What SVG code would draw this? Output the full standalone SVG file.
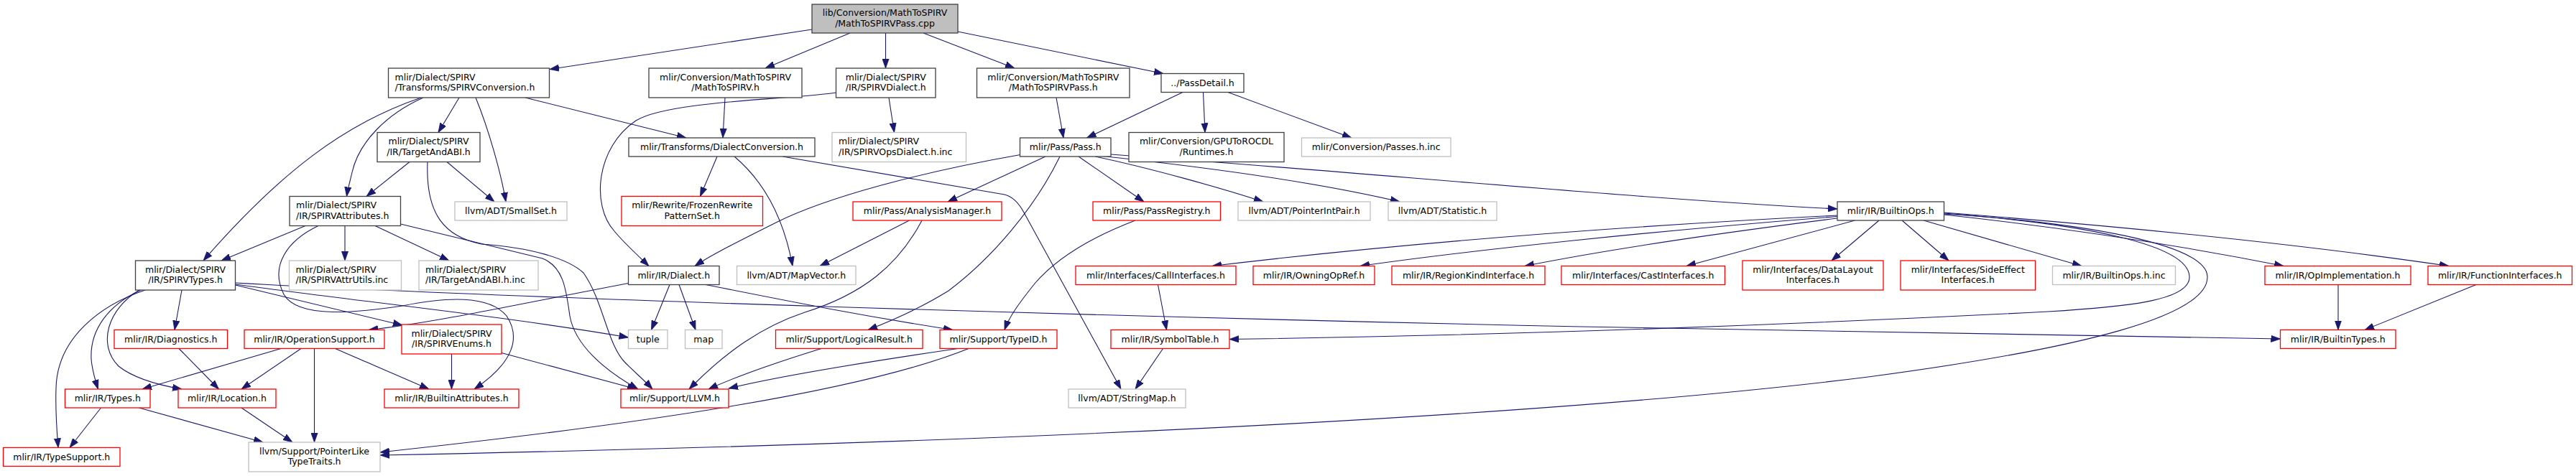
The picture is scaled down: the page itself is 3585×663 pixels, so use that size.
<svg xmlns="http://www.w3.org/2000/svg" width="3585" height="663" viewBox="0 0 3585 663">
<style>
rect{stroke-width:1.3}
.n{fill:#fff;stroke:#404040}
.m{fill:#bfbfbf;stroke:#404040}
.r{fill:#fff;stroke:#ff0000}
.g{fill:#fff;stroke:#bfbfbf}
text{font-family:"DejaVu Sans","Liberation Sans",sans-serif;font-size:12.5px;fill:#000}
.c{text-anchor:middle}
.e path{fill:none;stroke:#191970;stroke-width:1.1;marker-end:url(#a)}
</style>
<defs>
<marker id="a" viewBox="0 0 13 10" refX="13" refY="5" markerWidth="13" markerHeight="10" markerUnits="userSpaceOnUse" orient="auto">
<path d="M0,0.4 L13,5 L0,9.6 Z" fill="#191970" stroke="#191970" stroke-width="0.8"/>
</marker>
</defs>
<rect width="3585" height="663" fill="#fff"/>
<g class="e">
<path d="M1130,41 L765,96.5"/>
<path d="M1183,46 L1065,95"/>
<path d="M1232.5,46 L1232.5,95"/>
<path d="M1285,46 L1412,95"/>
<path d="M1333,44 L1619,102.5"/>
<path d="M639,136 L610,184.5"/>
<path d="M662,136 C680,180 697,240 704,281"/>
<path d="M731,136 L955,192"/>
<path d="M589,136 C540,158 500,196 490,240 C487,253 484,263 482.5,273.5"/>
<path d="M586,136 C480,172 390,240 283,363"/>
<path d="M1009,136 L1006,192"/>
<path d="M1237,136 L1244.5,184.5"/>
<path d="M1163.5,129 C1110,138 930,140 885,168 C830,205 822,285 855,322 C870,340 888,356 903,370.5"/>
<path d="M1470,136 L1480,192"/>
<path d="M1646,128.5 L1512.5,192"/>
<path d="M1674.5,128.5 L1677,184.5"/>
<path d="M1709,128.5 L1881,192"/>
<path d="M570,225.5 L510,273.5"/>
<path d="M622,225.5 L688,281"/>
<path d="M595,225.5 C592,300 620,330 670,340 C740,345 790,360 812,380 C840,420 845,480 870,505 C885,520 897,530 908,542"/>
<path d="M557.5,312 L755,360 C785,372 788,405 793,440 C800,480 840,515 888,542"/>
<path d="M998,218 L974.5,273.5"/>
<path d="M1022,218 C1060,250 1090,300 1103,370.5"/>
<path d="M1089,218 L1398,271 C1410,274 1418,283 1425,296 L1560,542"/>
<path d="M1420,215.5 C1280,240 1150,275 1080,310 C1030,335 990,355 967,370.5"/>
<path d="M1455,218 L1319,281"/>
<path d="M1475,218 C1440,290 1380,360 1320,405 C1280,430 1240,447 1208,459.5"/>
<path d="M1501,218 L1592,281"/>
<path d="M1524,218 C1600,234 1700,262 1758,281"/>
<path d="M1530,217 C1700,235 1850,258 1948,281"/>
<path d="M1546,215 C1900,240 2250,275 2557,291"/>
<path d="M1265.5,307 L1141,370.5"/>
<path d="M1283,307 C1250,370 1200,410 1120,435 C1060,455 1010,490 959,542"/>
<path d="M1580,307 C1520,330 1470,360 1440,395 C1420,420 1405,440 1398,459.5"/>
<path d="M932,396.5 L906.5,459.5"/>
<path d="M945,396.5 L968,459.5"/>
<path d="M982,396.5 C1100,420 1200,440 1326,459.5"/>
<path d="M874.5,394.5 C700,428 600,450 513,459.5"/>
<path d="M425,314.5 L308,363"/>
<path d="M480,314.5 L480,363"/>
<path d="M522,314.5 L625,363"/>
<path d="M443,314.5 C400,335 375,370 395,410 C415,445 500,435 560,426 C620,414 680,410 705,440 C725,470 715,505 660,542"/>
<path d="M202,404 C140,425 80,470 78,540 C77,570 79,600 81,623.5"/>
<path d="M196,404 C150,425 125,460 127,500 C128,515 132,528 136.5,542"/>
<path d="M194,404 C150,430 135,480 165,510 C190,530 230,538 253,542"/>
<path d="M253,404 L243,459.5"/>
<path d="M327.5,397 L560,453"/>
<path d="M327.5,396 C500,420 700,440 874.5,470"/>
<path d="M327.5,394 C700,415 1500,440 2200,455 C2600,463 2950,469 3173.5,472"/>
<path d="M391,485.5 L198,542"/>
<path d="M419,485.5 L336,542"/>
<path d="M437.5,485.5 L437.5,616"/>
<path d="M466.5,485.5 L597,542"/>
<path d="M628.5,493 L628.5,542"/>
<path d="M698,491.5 L886,542"/>
<path d="M249,485.5 L304.5,542"/>
<path d="M140.5,568 L97,623.5"/>
<path d="M193.5,568 L366,616"/>
<path d="M336,568 L407,616"/>
<path d="M1143,485.5 C1080,505 1030,522 986,542"/>
<path d="M1333,485.5 C1200,505 1080,525 1014,541"/>
<path d="M1348,485.5 C1200,545 900,590 529,630"/>
<path d="M2705.5,298 C2900,310 3070,340 3072,385 C3074,440 2900,485 2600,525 C2200,575 1500,615 529,634"/>
<path d="M2705.5,297 C2900,312 3045,340 3047,385 C3049,420 2950,428 2850,434 C2500,452 2100,467 1711,472.5"/>
<path d="M2557,300 C2200,318 1900,345 1687,370.5"/>
<path d="M2557,301.5 C2300,322 2050,348 1893,370.5"/>
<path d="M2557,304 C2350,330 2200,355 2122,370.5"/>
<path d="M2581.5,307 L2347,370.5"/>
<path d="M2615,307 L2549,363"/>
<path d="M2647,307 L2712,363"/>
<path d="M2677,307 L2897,370.5"/>
<path d="M2705.5,299 C2900,320 3050,345 3178,370.5"/>
<path d="M2705.5,296 C2950,315 3200,340 3408,370.5"/>
<path d="M1611.5,396.5 L1623.5,459.5"/>
<path d="M1618.5,485.5 L1580,542"/>
<path d="M3254,396.5 L3254,459.5"/>
<path d="M3446,396.5 L3291,459.5"/>
</g>
<g id="n_main"><rect class="m" x="1130" y="6" width="203" height="40"/><text class="c" x="1231.5" y="22">lib/Conversion/MathToSPIRV</text><text class="c" x="1231.5" y="36.5">/MathToSPIRVPass.cpp</text></g>
<g id="n_spirvconversion"><rect class="n" x="540.5" y="95" width="224" height="41"/><text x="549.5" y="111.5">mlir/Dialect/SPIRV</text><text x="549.5" y="126">/Transforms/SPIRVConversion.h</text></g>
<g id="n_mathtospirv"><rect class="n" x="903" y="95" width="213" height="41"/><text class="c" x="1009.5" y="111.5">mlir/Conversion/MathToSPIRV</text><text class="c" x="1009.5" y="126">/MathToSPIRV.h</text></g>
<g id="n_spirvdialect"><rect class="n" x="1163.5" y="95" width="138.5" height="41"/><text class="c" x="1232.75" y="111.5">mlir/Dialect/SPIRV</text><text class="c" x="1232.75" y="126">/IR/SPIRVDialect.h</text></g>
<g id="n_mathtospirvpass"><rect class="n" x="1359.5" y="95" width="212.5" height="41"/><text class="c" x="1465.75" y="111.5">mlir/Conversion/MathToSPIRV</text><text class="c" x="1465.75" y="126">/MathToSPIRVPass.h</text></g>
<g id="n_passdetail"><rect class="n" x="1616" y="102.5" width="115" height="26"/><text class="c" x="1673.5" y="119.5">../PassDetail.h</text></g>
<g id="n_targetandabi"><rect class="n" x="525" y="184.5" width="143" height="41"/><text class="c" x="596.5" y="201">mlir/Dialect/SPIRV</text><text class="c" x="596.5" y="215.5">/IR/TargetAndABI.h</text></g>
<g id="n_dialectconversion"><rect class="n" x="875" y="192" width="259" height="26"/><text class="c" x="1004.5" y="209">mlir/Transforms/DialectConversion.h</text></g>
<g id="n_spirvopsdialectinc"><rect class="g" x="1158" y="184.5" width="186.5" height="41"/><text x="1167" y="201">mlir/Dialect/SPIRV</text><text x="1167" y="215.5">/IR/SPIRVOpsDialect.h.inc</text></g>
<g id="n_pass"><rect class="n" x="1419.5" y="192" width="126.5" height="26"/><text class="c" x="1482.75" y="209">mlir/Pass/Pass.h</text></g>
<g id="n_runtimes"><rect class="n" x="1571" y="184.5" width="216" height="41"/><text class="c" x="1679" y="201">mlir/Conversion/GPUToROCDL</text><text class="c" x="1679" y="215.5">/Runtimes.h</text></g>
<g id="n_passesinc"><rect class="g" x="1811.5" y="192" width="207.5" height="26"/><text class="c" x="1915.25" y="209">mlir/Conversion/Passes.h.inc</text></g>
<g id="n_spirvattributes"><rect class="n" x="403" y="273.5" width="154.5" height="41"/><text x="412" y="290">mlir/Dialect/SPIRV</text><text x="412" y="304.5">/IR/SPIRVAttributes.h</text></g>
<g id="n_smallset"><rect class="g" x="633" y="281" width="156" height="26"/><text class="c" x="711" y="298">llvm/ADT/SmallSet.h</text></g>
<g id="n_frozenrewrite"><rect class="r" x="865" y="273.5" width="196.5" height="41"/><text class="c" x="963.25" y="290">mlir/Rewrite/FrozenRewrite</text><text class="c" x="963.25" y="304.5">PatternSet.h</text></g>
<g id="n_analysismanager"><rect class="r" x="1187" y="281" width="207" height="26"/><text class="c" x="1290.5" y="298">mlir/Pass/AnalysisManager.h</text></g>
<g id="n_passregistry"><rect class="r" x="1521" y="281" width="177.5" height="26"/><text class="c" x="1609.75" y="298">mlir/Pass/PassRegistry.h</text></g>
<g id="n_pointerintpair"><rect class="g" x="1723" y="281" width="184" height="26"/><text class="c" x="1815" y="298">llvm/ADT/PointerIntPair.h</text></g>
<g id="n_statistic"><rect class="g" x="1932" y="281" width="151" height="26"/><text class="c" x="2007.5" y="298">llvm/ADT/Statistic.h</text></g>
<g id="n_builtinops"><rect class="n" x="2557" y="281" width="148.5" height="26"/><text class="c" x="2631.25" y="298">mlir/IR/BuiltinOps.h</text></g>
<g id="n_spirvtypes"><rect class="n" x="188.5" y="363" width="139" height="41"/><text class="c" x="258" y="379.5">mlir/Dialect/SPIRV</text><text class="c" x="258" y="394">/IR/SPIRVTypes.h</text></g>
<g id="n_spirvattrutils"><rect class="g" x="402.5" y="363" width="156" height="41"/><text x="411.5" y="379.5">mlir/Dialect/SPIRV</text><text x="411.5" y="394">/IR/SPIRVAttrUtils.inc</text></g>
<g id="n_targetandabiinc"><rect class="g" x="583" y="363" width="166" height="41"/><text x="592" y="379.5">mlir/Dialect/SPIRV</text><text x="592" y="394">/IR/TargetAndABI.h.inc</text></g>
<g id="n_dialect"><rect class="n" x="874.5" y="370.5" width="126.5" height="26"/><text class="c" x="937.75" y="387.5">mlir/IR/Dialect.h</text></g>
<g id="n_mapvector"><rect class="g" x="1025.5" y="370.5" width="165.5" height="26"/><text class="c" x="1108.25" y="387.5">llvm/ADT/MapVector.h</text></g>
<g id="n_callinterfaces"><rect class="r" x="1497" y="370.5" width="223" height="26"/><text class="c" x="1608.5" y="387.5">mlir/Interfaces/CallInterfaces.h</text></g>
<g id="n_owningopref"><rect class="r" x="1744" y="370.5" width="169" height="26"/><text class="c" x="1828.5" y="387.5">mlir/IR/OwningOpRef.h</text></g>
<g id="n_regionkind"><rect class="r" x="1937" y="370.5" width="213" height="26"/><text class="c" x="2043.5" y="387.5">mlir/IR/RegionKindInterface.h</text></g>
<g id="n_castinterfaces"><rect class="r" x="2173" y="370.5" width="227.5" height="26"/><text class="c" x="2286.75" y="387.5">mlir/Interfaces/CastInterfaces.h</text></g>
<g id="n_datalayout"><rect class="r" x="2425" y="363" width="196" height="41"/><text class="c" x="2523" y="379.5">mlir/Interfaces/DataLayout</text><text class="c" x="2523" y="394">Interfaces.h</text></g>
<g id="n_sideeffect"><rect class="r" x="2645" y="363" width="187.5" height="41"/><text class="c" x="2738.75" y="379.5">mlir/Interfaces/SideEffect</text><text class="c" x="2738.75" y="394">Interfaces.h</text></g>
<g id="n_builtinopsinc"><rect class="g" x="2856.5" y="370.5" width="171" height="26"/><text class="c" x="2942" y="387.5">mlir/IR/BuiltinOps.h.inc</text></g>
<g id="n_opimplementation"><rect class="r" x="3152" y="370.5" width="203" height="26"/><text class="c" x="3253.5" y="387.5">mlir/IR/OpImplementation.h</text></g>
<g id="n_functioninterfaces"><rect class="r" x="3379" y="370.5" width="200.5" height="26"/><text class="c" x="3479.25" y="387.5">mlir/IR/FunctionInterfaces.h</text></g>
<g id="n_diagnostics"><rect class="r" x="159" y="459.5" width="157.5" height="26"/><text class="c" x="237.75" y="476.5">mlir/IR/Diagnostics.h</text></g>
<g id="n_operationsupport"><rect class="r" x="340" y="459.5" width="195" height="26"/><text class="c" x="437.5" y="476.5">mlir/IR/OperationSupport.h</text></g>
<g id="n_spirvenums"><rect class="r" x="559" y="452" width="139" height="41"/><text class="c" x="628.5" y="468.5">mlir/Dialect/SPIRV</text><text class="c" x="628.5" y="483">/IR/SPIRVEnums.h</text></g>
<g id="n_tuple"><rect class="g" x="874.5" y="459.5" width="54.5" height="26"/><text class="c" x="901.75" y="476.5">tuple</text></g>
<g id="n_map"><rect class="g" x="953.5" y="459.5" width="51.5" height="26"/><text class="c" x="979.25" y="476.5">map</text></g>
<g id="n_logicalresult"><rect class="r" x="1079.5" y="459.5" width="204.5" height="26"/><text class="c" x="1181.75" y="476.5">mlir/Support/LogicalResult.h</text></g>
<g id="n_typeid"><rect class="r" x="1308" y="459.5" width="163" height="26"/><text class="c" x="1389.5" y="476.5">mlir/Support/TypeID.h</text></g>
<g id="n_symboltable"><rect class="r" x="1546" y="459.5" width="165" height="26"/><text class="c" x="1628.5" y="476.5">mlir/IR/SymbolTable.h</text></g>
<g id="n_builtintypes"><rect class="r" x="3173.5" y="459.5" width="160.5" height="26"/><text class="c" x="3253.75" y="476.5">mlir/IR/BuiltinTypes.h</text></g>
<g id="n_types"><rect class="r" x="90.5" y="542" width="118.5" height="26"/><text class="c" x="149.75" y="559">mlir/IR/Types.h</text></g>
<g id="n_location"><rect class="r" x="248" y="542" width="136" height="26"/><text class="c" x="316" y="559">mlir/IR/Location.h</text></g>
<g id="n_builtinattributes"><rect class="r" x="535" y="542" width="187" height="26"/><text class="c" x="628.5" y="559">mlir/IR/BuiltinAttributes.h</text></g>
<g id="n_llvm"><rect class="r" x="864" y="542" width="150" height="26"/><text class="c" x="939" y="559">mlir/Support/LLVM.h</text></g>
<g id="n_stringmap"><rect class="g" x="1487" y="542" width="163" height="26"/><text class="c" x="1568.5" y="559">llvm/ADT/StringMap.h</text></g>
<g id="n_typesupport"><rect class="r" x="4.5" y="623.5" width="162.5" height="26"/><text class="c" x="85.75" y="640.5">mlir/IR/TypeSupport.h</text></g>
<g id="n_pointerlike"><rect class="g" x="346" y="616" width="183" height="41"/><text class="c" x="437.5" y="632.5">llvm/Support/PointerLike</text><text class="c" x="437.5" y="647">TypeTraits.h</text></g>
</svg>
